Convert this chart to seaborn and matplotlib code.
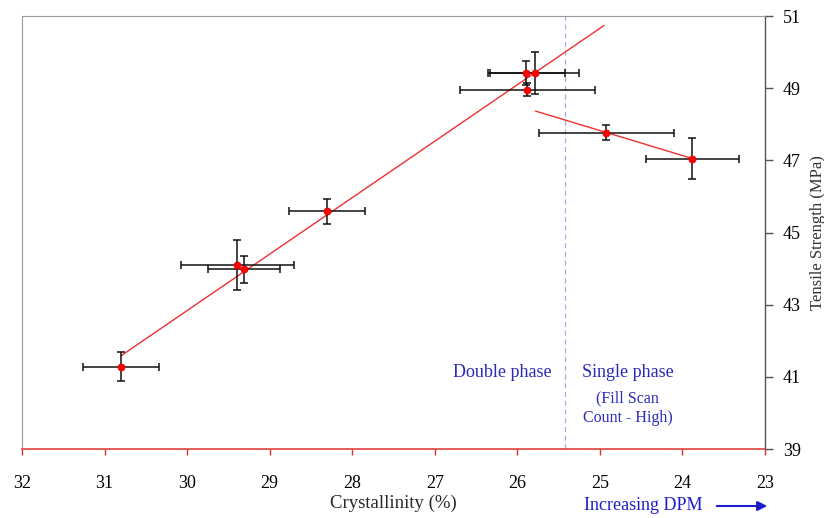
import numpy as np
import pandas as pd
import matplotlib
matplotlib.use("Agg")
import matplotlib.pyplot as plt
import seaborn as sns

# ---- data ----
crystallinity = [30.80, 29.39, 29.31, 28.30, 25.89, 25.79, 25.88, 24.92, 23.88]
tensile = [41.28, 44.09, 43.98, 45.59, 49.43, 49.43, 48.96, 47.77, 47.05]
x_err = [0.46, 0.69, 0.44, 0.46, 0.47, 0.54, 0.82, 0.82, 0.56]
y_err = [0.40, 0.69, 0.37, 0.35, 0.33, 0.58, 0.19, 0.21, 0.57]
phase = ["double"] * 7 + ["single"] * 2

# trend line extents (crystallinity %)
double_fit_span = [30.80, 24.95]
single_fit_span = [25.78, 23.88]
phase_boundary = 25.42

x_ticks = [32, 31, 30, 29, 28, 27, 26, 25, 24, 23]
y_ticks = [39, 41, 43, 45, 47, 49, 51]

df = pd.DataFrame({"Crystallinity": crystallinity, "Tensile": tensile,
                   "xerr": x_err, "yerr": y_err, "phase": phase})

sns.set_theme(style="white")
plt.rcParams["font.family"] = ["Liberation Serif", "DejaVu Serif"]

fig = plt.figure(figsize=(8.24, 5.18), dpi=100)
ax = fig.add_axes([22 / 824, 1 - 449 / 518, 743 / 824, 433 / 518])

# trend lines from least-squares fits
fit_rows = []
for ph, span in (("double", double_fit_span), ("single", single_fit_span)):
    sub = df[df.phase == ph]
    k, b = np.polyfit(sub.Crystallinity, sub.Tensile, 1)
    for xv in span:
        fit_rows.append({"x": xv, "y": k * xv + b, "phase": ph})
fit_df = pd.DataFrame(fit_rows)
sns.lineplot(data=fit_df, x="x", y="y", units="phase", estimator=None,
             color="#ee3030", lw=1.0, ax=ax, zorder=2)

# error bars
ax.errorbar(df.Crystallinity, df.Tensile, xerr=df.xerr, yerr=df.yerr,
            fmt="none", ecolor="#111111", elinewidth=1.1, capsize=3,
            capthick=1.1, zorder=3)

# points
sns.scatterplot(data=df, x="Crystallinity", y="Tensile", color="#ff0000",
                s=26, edgecolor="#dd0000", linewidth=0.5, ax=ax, zorder=4,
                legend=False)

# phase boundary
ax.axvline(phase_boundary, color="#a8a8ee", lw=0.9, ls=(0, (4, 3)), zorder=1)

ax.set_xlim(32, 23)
ax.set_ylim(39, 51)
ax.set_xticks(x_ticks)
ax.set_yticks(y_ticks)
ax.yaxis.tick_right()
ax.yaxis.set_label_position("right")

for s in ("left", "top"):
    ax.spines[s].set_color("#9a9a9a")
    ax.spines[s].set_linewidth(0.8)
ax.spines["bottom"].set_color("#e03030")
ax.spines["bottom"].set_linewidth(1.1)
ax.spines["bottom"].set_zorder(5)
ax.spines["right"].set_color("#555555")
ax.spines["right"].set_linewidth(1.0)

ax.tick_params(axis="x", direction="out", length=4, width=1.0,
               colors="#e03030", labelcolor="black", labelsize=13, pad=15,
               bottom=True)
ax.tick_params(axis="y", direction="out", length=6, width=1.0,
               colors="#555555", labelcolor="black", labelsize=13, pad=7,
               right=True)

ax.set_xlabel("Crystallinity (%)", fontsize=13.5, labelpad=2)
ax.set_ylabel("Tensile Strength (MPa)", fontsize=12, labelpad=6,
              color="#333333")

txt_blue = "#2a2ab8"
ax.text(0.646, 0.177, "Double phase", transform=ax.transAxes, ha="center",
        va="center", fontsize=13, color=txt_blue)
ax.text(0.815, 0.177, "Single phase", transform=ax.transAxes, ha="center",
        va="center", fontsize=13, color=txt_blue)
ax.text(0.815, 0.118, "(Fill Scan", transform=ax.transAxes, ha="center",
        va="center", fontsize=11.5, color=txt_blue)
ax.text(0.815, 0.072, "Count - High)", transform=ax.transAxes, ha="center",
        va="center", fontsize=11.5, color=txt_blue)

fig.text(643 / 824, 1 - 505 / 518, "Increasing DPM", ha="center",
         va="center", fontsize=13, color="#1c1ccc")
fig.add_artist(matplotlib.patches.FancyArrowPatch(
    (714 / 824, 1 - 506 / 518), (770 / 824, 1 - 506 / 518),
    transform=fig.transFigure, arrowstyle="-|>", mutation_scale=14,
    color="#1c1ccc", lw=1.5))

fig.savefig("out.png", dpi=100)
